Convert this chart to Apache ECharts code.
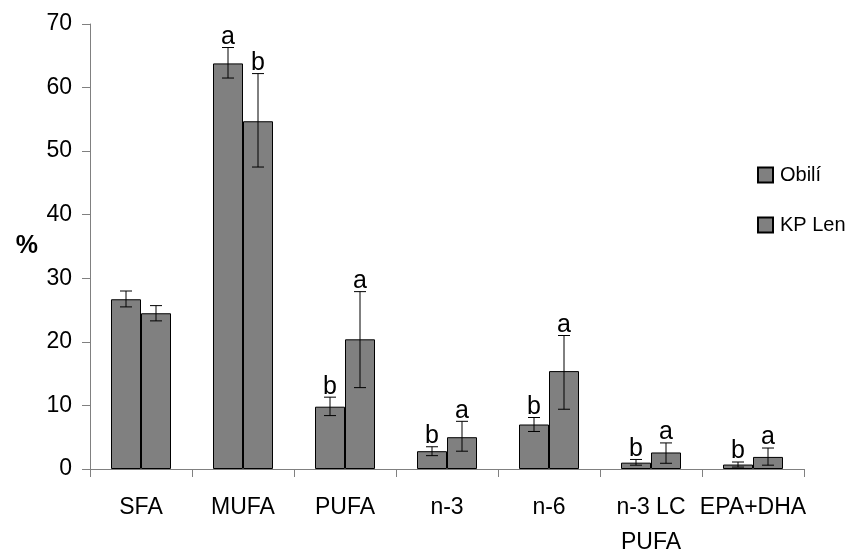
<!DOCTYPE html>
<html>
<head>
<meta charset="utf-8">
<script src="https://cdn.jsdelivr.net/npm/echarts@6/dist/echarts.min.js"></script>
<style>
  html, body { margin: 0; padding: 0; background: #fff; }
  #chart { width: 845px; height: 550px; }
</style>
</head>
<body>
<div id="chart"></div>
<script>
const categories = ['SFA', 'MUFA', 'PUFA', 'n-3', 'n-6', 'n-3 LC\nPUFA', 'EPA+DHA'];
const obili = [26.7, 63.8, 9.8, 2.8, 7.0, 1.0, 0.7];
const obiliLow = [25.5, 61.5, 8.4, 2.1, 5.9, 0.6, 0.3];
const obiliHigh = [28.0, 66.3, 11.3, 3.5, 8.1, 1.5, 1.1];
const obiliLetters = ['', 'a', 'b', 'b', 'b', 'b', 'b'];
const kpLen = [24.5, 54.7, 20.4, 5.0, 15.4, 2.6, 1.9];
const kpLow = [23.3, 47.5, 12.8, 2.8, 9.4, 0.9, 0.6];
const kpHigh = [25.7, 62.2, 27.9, 7.5, 21.0, 4.1, 3.3];
const kpLetters = ['', 'b', 'a', 'a', 'a', 'a', 'a'];

const FONT = 'Liberation Sans, Arial, sans-serif';
const BAR_W = 30;

function errData(low, high, letters) {
  return categories.map((c, i) => [i, low[i], high[i], letters[i]]);
}

// error bars + significance letter, shifted onto the left/right bar of each group
function errRender(offset, letters) {
  return function (params, api) {
    const i = api.value(0);
    const lo = api.coord([i, api.value(1)]);
    const hi = api.coord([i, api.value(2)]);
    const x = lo[0] + offset;
    const cap = 6;
    const style = { stroke: '#000', lineWidth: 1 };
    const children = [
      { type: 'line', shape: { x1: x, y1: lo[1], x2: x, y2: hi[1] }, style },
      { type: 'line', shape: { x1: x - cap, y1: lo[1], x2: x + cap, y2: lo[1] }, style },
      { type: 'line', shape: { x1: x - cap, y1: hi[1], x2: x + cap, y2: hi[1] }, style }
    ];
    const letter = letters[params.dataIndex];
    if (letter) {
      children.push({
        type: 'text',
        style: {
          text: letter, x: x, y: hi[1] + 2,
          align: 'center', verticalAlign: 'bottom',
          font: '25px ' + FONT, fill: '#000'
        }
      });
    }
    return { type: 'group', children };
  };
}

const chart = echarts.init(document.getElementById('chart'));
chart.setOption({
  animation: false,
  grid: { left: 90, right: 41, top: 24, bottom: 81, outerBoundsMode: 'none' },
  legend: {
    orient: 'vertical',
    left: 752,
    top: 160,
    itemWidth: 15,
    itemHeight: 15,
    itemGap: 30,
    icon: 'rect',
    data: ['Obilí', 'KP Len'],
    textStyle: { fontFamily: FONT, fontSize: 20, color: '#000', padding: [0, 0, 0, 2] }
  },
  xAxis: {
    type: 'category',
    data: categories,
    axisLine: { lineStyle: { color: '#808080' } },
    axisTick: { show: true, length: 8, lineStyle: { color: '#808080' } },
    axisLabel: { color: '#000', fontFamily: FONT, fontSize: 23, margin: 21, lineHeight: 35, interval: 0 }
  },
  yAxis: {
    type: 'value',
    min: 0,
    max: 70,
    interval: 10,
    name: '%',
    nameLocation: 'middle',
    nameRotate: 0,
    nameGap: 52,
    nameTextStyle: { fontFamily: FONT, fontSize: 25, fontWeight: 'bold', color: '#000' },
    splitLine: { show: false },
    axisLine: { show: true, lineStyle: { color: '#808080' } },
    axisTick: { show: true, length: 8, lineStyle: { color: '#808080' } },
    axisLabel: { color: '#000', fontFamily: FONT, fontSize: 23, margin: 18 }
  },
  series: [
    {
      name: 'Obilí', type: 'bar', data: obili, barWidth: BAR_W, barGap: '0%',
      itemStyle: { color: '#808080', borderColor: '#000', borderWidth: 1 }
    },
    {
      name: 'KP Len', type: 'bar', data: kpLen, barWidth: BAR_W, barGap: '0%',
      itemStyle: { color: '#808080', borderColor: '#000', borderWidth: 1 }
    },
    {
      name: 'errO', type: 'custom', renderItem: errRender(-BAR_W / 2, obiliLetters),
      data: errData(obiliLow, obiliHigh, obiliLetters), z: 10
    },
    {
      name: 'errK', type: 'custom', renderItem: errRender(BAR_W / 2, kpLetters),
      data: errData(kpLow, kpHigh, kpLetters), z: 10
    }
  ]
});
</script>
</body>
</html>
